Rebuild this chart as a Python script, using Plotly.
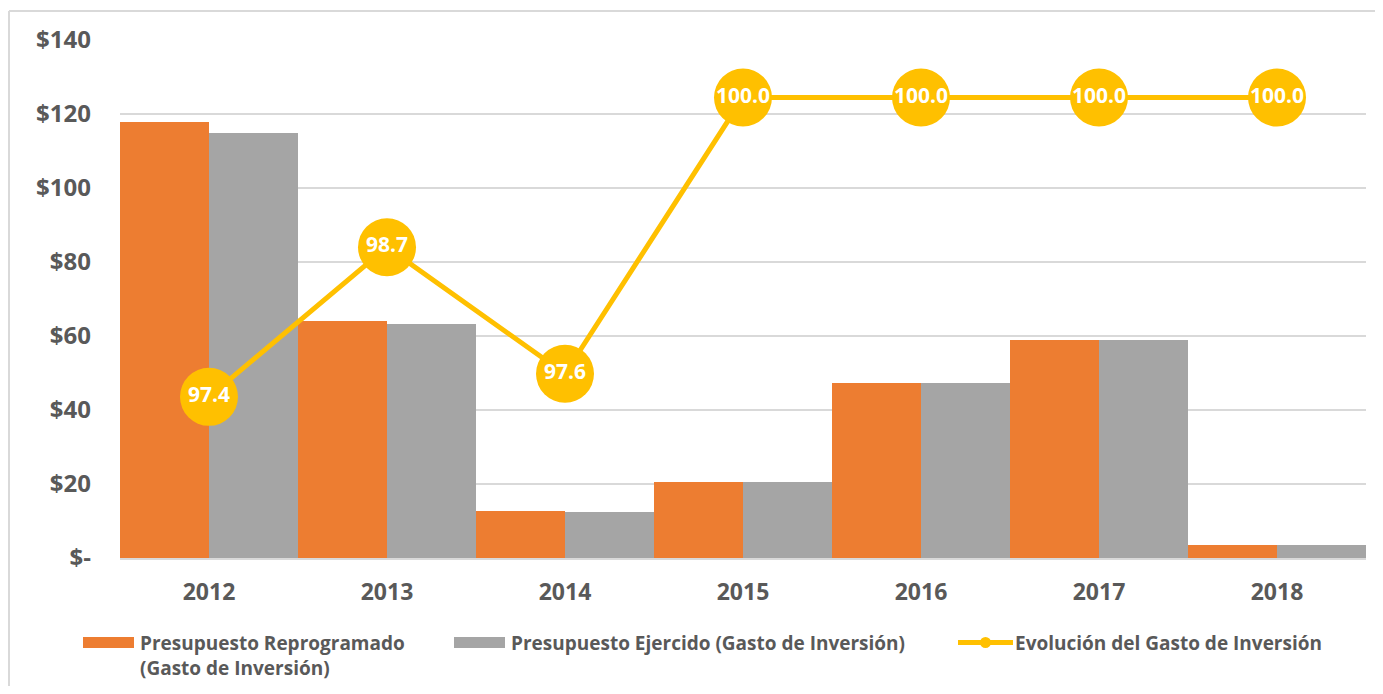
import plotly.graph_objects as go

years = ["2012", "2013", "2014", "2015", "2016", "2017", "2018"]
reprogramado = [117.8, 64.0, 12.8, 20.5, 47.3, 58.9, 3.5]
ejercido = [114.9, 63.2, 12.4, 20.5, 47.3, 58.9, 3.5]
evolucion = [97.4, 98.7, 97.6, 100.0, 100.0, 100.0, 100.0]

y_ticks = [0, 20, 40, 60, 80, 100, 120, 140]
y_ticktext = ["$-", "$20", "$40", "$60", "$80", "$100", "$120", "$140"]

orange = "#ED7D31"
gray = "#A5A5A5"
yellow = "#FFC000"
text_col = "#595959"
grid_col = "#D9D9D9"
font_fam = "Open Sans, Lato, sans-serif"

# page has an 8px body margin, so the figure is a bit smaller than the window
OFF = 8
W, H = 1367, 678
L, R, T, B = 112, 9, 32, 128
pw, ph = W - L - R, H - T - B


def px_x(x):
    # x in window pixels -> paper coords
    return (x - OFF - L) / pw


def px_y(y):
    return (H - B - (y - OFF)) / ph


fig = go.Figure()
fig.add_trace(go.Bar(x=years, y=reprogramado, marker=dict(color=orange, line=dict(width=0)),
                     name="Presupuesto Reprogramado (Gasto de Inversión)"))
fig.add_trace(go.Bar(x=years, y=ejercido, marker=dict(color=gray, line=dict(width=0)),
                     name="Presupuesto Ejercido (Gasto de Inversión)"))
fig.add_trace(go.Scatter(x=years, y=evolucion, yaxis="y2", mode="lines+markers+text",
                         line=dict(color=yellow, width=5),
                         marker=dict(color=yellow, size=58),
                         text=[f"{v:.1f}" for v in evolucion], textposition="middle center",
                         textfont=dict(color="white", size=21, family=font_fam, weight="bold"),
                         name="Evolución del Gasto de Inversión", cliponaxis=False))

# frame lines (left and top)
fig.add_shape(type="line", xref="paper", yref="paper", x0=px_x(9), x1=px_x(9), y0=px_y(700), y1=px_y(11),
              line=dict(color=grid_col, width=2))
fig.add_shape(type="line", xref="paper", yref="paper", x0=px_x(9), x1=px_x(1390), y0=px_y(11), y1=px_y(11),
              line=dict(color=grid_col, width=2))

# custom legend
leg_font = dict(family=font_fam, size=19, color=text_col, weight="bold")
legend_items = [
    (83, 134, orange, 139, "Presupuesto Reprogramado<br>(Gasto de Inversión)"),
    (454, 505, gray, 510, "Presupuesto Ejercido (Gasto de Inversión)"),
]
for x0, x1, col, tx, label in legend_items:
    fig.add_shape(type="rect", xref="paper", yref="paper", x0=px_x(x0), x1=px_x(x1), y0=px_y(648), y1=px_y(637),
                  fillcolor=col, line=dict(width=0))
    fig.add_annotation(xref="paper", yref="paper", x=px_x(tx), y=px_y(629), xanchor="left", yanchor="top",
                       text=label, showarrow=False, align="left", font=leg_font, borderpad=0)

fig.add_shape(type="line", xref="paper", yref="paper", x0=px_x(958), x1=px_x(1013), y0=px_y(642.5), y1=px_y(642.5),
              line=dict(color=yellow, width=5))
fig.add_shape(type="circle", xref="paper", yref="paper", x0=px_x(980), x1=px_x(991), y0=px_y(648), y1=px_y(637),
              fillcolor=yellow, line=dict(width=0))
fig.add_annotation(xref="paper", yref="paper", x=px_x(1014), y=px_y(629), xanchor="left", yanchor="top",
                   text="Evolución del Gasto de Inversión", showarrow=False, align="left", font=leg_font,
                   borderpad=0)

fig.update_layout(
    width=W, height=H,
    margin=dict(l=L, r=R, t=T, b=B),
    paper_bgcolor="white", plot_bgcolor="white",
    barmode="group", bargap=0, bargroupgap=0,
    showlegend=False,
    font=dict(family=font_fam, color=text_col),
    xaxis=dict(range=[-0.5, 6.5], showgrid=False, showline=True, linecolor=grid_col, linewidth=2, ticks="",
               tickfont=dict(size=23, color=text_col, family=font_fam, weight="bold"),
               ticklabelstandoff=12),
    yaxis=dict(range=[0, 140], tickvals=y_ticks, ticktext=y_ticktext, showgrid=True, gridcolor=grid_col,
               gridwidth=2, zeroline=False, showline=False, ticks="",
               tickfont=dict(size=24, color=text_col, family=font_fam, weight="bold"),
               ticklabelstandoff=28),
    yaxis2=dict(range=[96, 100.5], overlaying="y", side="right", visible=False),
)

fig.write_html("out.html")
